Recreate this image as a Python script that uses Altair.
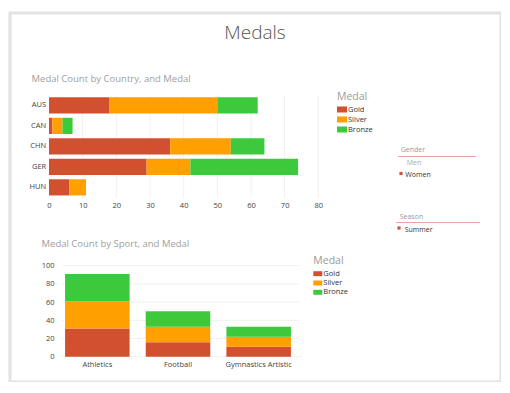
import altair as alt
import pandas as pd

# ---------------- data ----------------
medals = ["Gold", "Silver", "Bronze"]
medal_colors = ["#D24F2F", "#FF9F00", "#3CC93C"]

countries = ["AUS", "CAN", "CHN", "GER", "HUN"]
country_gold = [18, 1, 36, 29, 6]
country_silver = [32, 3, 18, 13, 5]
country_bronze = [12, 3, 10, 32, 0]
country_ticks = [0, 10, 20, 30, 40, 50, 60, 70, 80]

sports = ["Athletics", "Football", "Gymnastics Artistic"]
sport_gold = [31, 16, 11]
sport_silver = [30, 17, 11]
sport_bronze = [30, 17, 11]
sport_ticks = [0, 20, 40, 60, 80, 100]

FONT = "Open Sans"


def long_table(cats, key, g, s, b):
    rows = []
    for i, c in enumerate(cats):
        for k, (m, vals) in enumerate(zip(medals, [g, s, b])):
            rows.append({key: c, "Medal": m, "Count": vals[i], "ord": k})
    return pd.DataFrame(rows)


df_country = long_table(countries, "Country", country_gold, country_silver, country_bronze)
df_sport = long_table(sports, "Sport", sport_gold, sport_silver, sport_bronze)
df_cticks = pd.DataFrame({"v": country_ticks[1:]})
df_sticks = pd.DataFrame({"v": sport_ticks})

H = 369


def legend(x, y, sym_path, sym_size, row_pad, title_pad):
    return alt.Legend(
        orient="none", legendX=x, legendY=y, title="Medal",
        titleFont=FONT, titleFontSize=10.5, titleColor="#9a9a9a",
        titleFontWeight="normal", titlePadding=title_pad,
        labelFont=FONT, labelFontSize=7.5, labelColor="#333333",
        labelOffset=1, symbolType=sym_path, symbolSize=sym_size,
        symbolStrokeWidth=0, symbolOpacity=1, rowPadding=row_pad, padding=0,
    )


def color_enc(leg):
    return alt.Color("Medal:N", scale=alt.Scale(domain=medals, range=medal_colors),
                     sort=medals, legend=leg)


# ---------------- top chart: by country ----------------
top_x_scale = alt.Scale(domain=[0, 80], range=[39, 308.3], nice=False)
top_y_scale = alt.Scale(domain=countries, range=[82.25, 184.5],
                        paddingInner=0.21, paddingOuter=0.1)
top_x_axis = alt.Axis(orient="bottom", offset=-(H - 185), values=country_ticks,
                      domain=False, ticks=False, grid=False, labelPadding=3,
                      labelFlush=False, labelFont=FONT, labelFontSize=7.5,
                      labelColor="#444444", title=None)
top_y_axis = alt.Axis(orient="left", offset=-39, domain=False, ticks=False,
                      grid=False, labelPadding=3.3, labelFont=FONT,
                      labelFontSize=7.5, labelColor="#444444", title=None)

top_grid = alt.Chart(df_cticks).mark_rule(color="#f1f1f1", strokeWidth=1).encode(
    x=alt.X("v:Q", scale=top_x_scale, axis=top_x_axis, title=None),
    y=alt.value(82), y2=alt.value(185),
)
top_bars = alt.Chart(df_country).mark_bar().encode(
    x=alt.X("Count:Q", stack="zero", scale=top_x_scale, axis=top_x_axis, title=None),
    y=alt.Y("Country:N", sort=countries, scale=top_y_scale, axis=top_y_axis, title=None),
    color=color_enc(legend(327, 79, "M-1,-0.6H1V0.6H-1Z", 100, 1, 2)),
    order=alt.Order("ord:Q"),
)
top = alt.layer(top_grid, top_bars)

# ---------------- bottom chart: by sport ----------------
bot_x_scale = alt.Scale(domain=sports, range=[47, 289], paddingInner=0.2, paddingOuter=0.1)
bot_y_scale = alt.Scale(domain=[0, 100], range=[343.7, 252.7], nice=False)
bot_x_axis = alt.Axis(orient="bottom", offset=-(H - 343.7), domain=False, ticks=False,
                      grid=False, labelPadding=3.3, labelFont=FONT, labelFontSize=7.5,
                      labelColor="#444444", labelAngle=0, title=None)
bot_y_axis = alt.Axis(orient="left", offset=-47, values=sport_ticks, domain=False,
                      ticks=False, grid=False, labelPadding=3, labelFlush=False,
                      labelFont=FONT, labelFontSize=7.5, labelColor="#444444",
                      title=None)

bot_grid = alt.Chart(df_sticks).mark_rule(color="#f1f1f1", strokeWidth=1).encode(
    y=alt.Y("v:Q", scale=bot_y_scale, axis=bot_y_axis, title=None),
    x=alt.value(51.7), x2=alt.value(290),
)
bot_bars = alt.Chart(df_sport).mark_bar().encode(
    x=alt.X("Sport:N", sort=sports, scale=bot_x_scale, axis=bot_x_axis, title=None),
    y=alt.Y("Count:Q", stack="zero", scale=bot_y_scale, axis=bot_y_axis, title=None),
    color=color_enc(legend(303.3, 242.7, "M-1,-0.55H1V0.55H-1Z", 81, 1.3, 3)),
    order=alt.Order("ord:Q"),
)
bottom = alt.layer(bot_grid, bot_bars)


# ---------------- texts (titles, slicers) ----------------
def txt(s, x, y, size, color, align="left", weight="normal"):
    return alt.Chart(pd.DataFrame({"t": [s]})).mark_text(
        font=FONT, fontSize=size, color=color, align=align, baseline="alphabetic",
        fontWeight=weight,
    ).encode(text="t:N", x=alt.value(x), y=alt.value(y))


def hline(x1, x2, y, color):
    return alt.Chart(pd.DataFrame({"a": [0]})).mark_rule(color=color, strokeWidth=1).encode(
        x=alt.value(x1), x2=alt.value(x2), y=alt.value(y))


def bullet(x, y, color):
    return alt.Chart(pd.DataFrame({"a": [0]})).mark_square(color=color, size=10, opacity=1).encode(
        x=alt.value(x), y=alt.value(y))


texts = [
    txt("Medals", 245, 26, 19, "#555555", align="center", weight=300),
    txt("Medal Count by Country, and Medal", 21.5, 69, 9.5, "#a0a0a0"),
    txt("Medal Count by Sport, and Medal", 31.5, 233.5, 9.5, "#a0a0a0"),
    txt("Gender", 390.7, 139.3, 7, "#9a9a9a"),
    hline(388, 466, 143.5, "#e6a89c"),
    txt("Men", 396.7, 152, 7, "#aaaaaa"),
    bullet(391, 160.5, "#d0503a"),
    txt("Women", 395.3, 164, 7, "#333333"),
    txt("Season", 389.7, 206, 7, "#9a9a9a"),
    hline(386, 470, 209.5, "#e6a89c"),
    bullet(389, 215, "#d0503a"),
    txt("Summer", 394.7, 218.5, 7, "#333333"),
]

chart = alt.layer(top, bottom, *texts).resolve_scale(
    x="independent", y="independent", color="independent"
).resolve_axis(x="independent", y="independent").resolve_legend(
    color="independent"
).properties(
    width=491, height=H,
    padding={"left": 2, "top": 5, "right": 0, "bottom": 0},
    autosize=alt.AutoSizeParams(type="none"),
    background="white",
).configure_view(stroke="#e2e2e2", strokeWidth=3)

chart.save("out.html", embed_options={"renderer": "svg", "actions": False})
